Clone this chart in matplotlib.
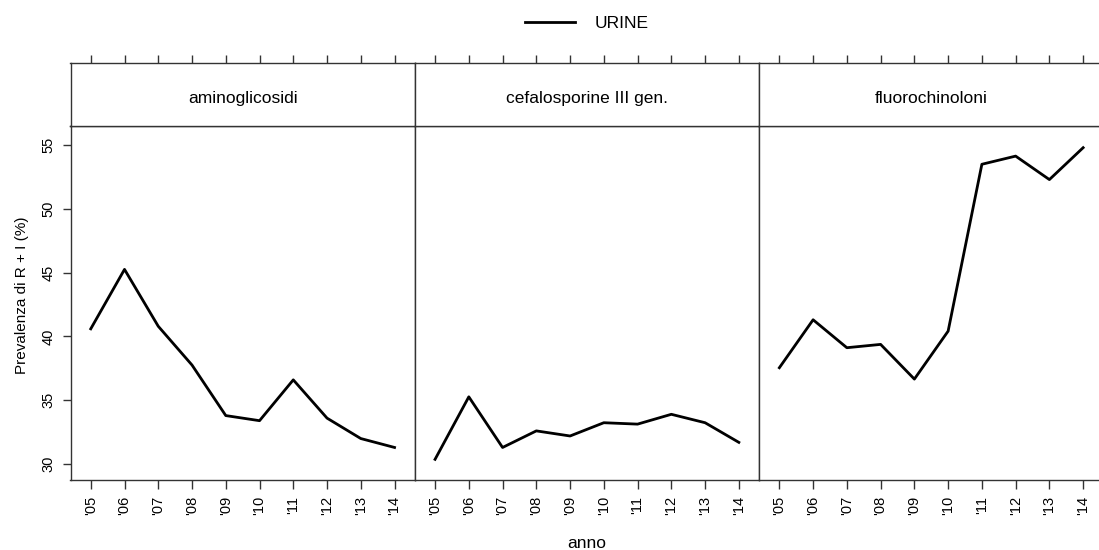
import numpy as np
import matplotlib
matplotlib.use("Agg")
import matplotlib.pyplot as plt
from matplotlib.lines import Line2D

# data
anni = np.arange(2005, 2015)
etichette = ["'05", "'06", "'07", "'08", "'09", "'10", "'11", "'12", "'13", "'14"]
pannelli = ["aminoglicosidi", "cefalosporine III gen.", "fluorochinoloni"]
aminoglicosidi = [40.6, 45.26, 40.8, 37.76, 33.8, 33.4, 36.6, 33.6, 32.0, 31.3]
cefalosporine = [30.37, 35.27, 31.3, 32.6, 32.2, 33.24, 33.13, 33.9, 33.24, 31.7]
fluorochinoloni = [37.55, 41.31, 39.12, 39.38, 36.66, 40.42, 53.5, 54.14, 52.3, 54.8]
serie = [aminoglicosidi, cefalosporine, fluorochinoloni]

W, H = 1099, 550
fig = plt.figure(figsize=(W / 100, H / 100), dpi=100)
plt.rcParams['font.family'] = ['Liberation Sans', 'DejaVu Sans']

edge = '#333333'
left_px, pw = 70.5, 344.3
top_strip, strip_bot, bot = 63, 126, 480
xlim = (2004.4, 2014.6)
ylim = (28.75, 56.5)

for i, (nome, vals) in enumerate(zip(pannelli, serie)):
    x0 = (left_px + i * pw) / W
    # * pannello dati
    ax = fig.add_axes([x0, 1 - bot / H, pw / W, (bot - strip_bot) / H])
    ax.plot(anni, vals, color='black', lw=2.0)
    ax.set_xlim(*xlim)
    ax.set_ylim(*ylim)
    ax.set_xticks(anni)
    ax.set_xticklabels(etichette, rotation=90, fontsize=10.5)
    ax.tick_params(axis='x', direction='out', length=6.5, width=1, color=edge, pad=5)
    if i == 0:
        ax.set_yticks([30, 35, 40, 45, 50, 55])
        ax.set_yticklabels(['30', '35', '40', '45', '50', '55'], rotation=90, va='center', fontsize=10.5)
        ax.tick_params(axis='y', direction='out', length=6, width=1, color=edge, pad=4.5)
    else:
        ax.set_yticks([])
    for s in ax.spines.values():
        s.set_color(edge)
        s.set_linewidth(1)

    # * strip con il nome
    sx = fig.add_axes([x0, 1 - strip_bot / H, pw / W, (strip_bot - top_strip) / H])
    sx.set_xlim(*xlim)
    sx.set_ylim(0, 1)
    sx.set_yticks([])
    sx.set_xticks(anni)
    sx.xaxis.tick_top()
    sx.tick_params(axis='x', direction='out', length=5.5, width=1, color=edge, labeltop=False)
    sx.text(0.5, 0.44, nome, transform=sx.transAxes, ha='center', va='center', fontsize=12.5)
    for s in sx.spines.values():
        s.set_color(edge)
        s.set_linewidth(1)

# * etichette assi
fig.text(22 / W, 1 - 295 / H, 'Prevalenza di R + I (%)', rotation=90,
         ha='center', va='center', fontsize=11)
fig.text(587 / W, 1 - 543 / H, 'anno', ha='center', va='center', fontsize=12.5)

# * legenda in alto
handle = Line2D([], [], color='black', lw=2.0)
fig.legend([handle], ['URINE'], loc='center left', bbox_to_anchor=(509 / W, 1 - 23 / H),
           frameon=False, fontsize=12.5, handlelength=2.93, handletextpad=1.1)

fig.savefig('out.png', dpi=100)
